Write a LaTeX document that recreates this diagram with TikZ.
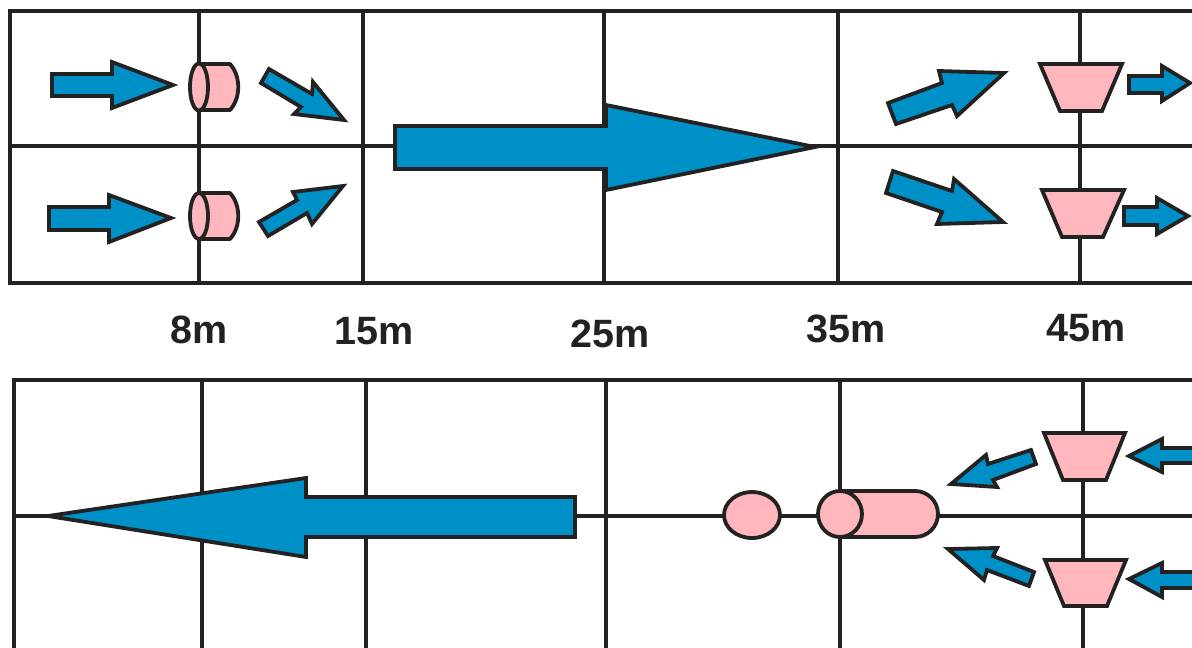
\documentclass[tikz,border=0pt]{standalone}
\usepackage{fontspec}
\setmainfont{Liberation Sans}
\definecolor{flow}{HTML}{0090C8}
\definecolor{vane}{HTML}{FFB6BC}
\definecolor{ink}{HTML}{222222}
\tikzset{
  gridline/.style={draw=ink,line width=3.6pt},
  flowarrow/.style={draw=ink,fill=flow,line width=3.8pt,line join=miter,miter limit=10},
  vaneshape/.style={draw=ink,fill=vane,line width=3.8pt,line join=round},
  dist/.style={font=\fontsize{39.5}{39.5}\selectfont\bfseries,text=ink,inner sep=0pt}
}
\begin{document}
\begin{tikzpicture}[x=1pt,y=-1pt]
\useasboundingbox (0,0) rectangle (1192,648);
\fill[white] (0,0) rectangle (1192,648);
\begin{scope}
\clip (0,0) rectangle (1192,648);
% top grid
\draw[gridline] (1200,11) -- (10,11) -- (10,283) -- (1200,283);
\draw[gridline] (10,146) -- (1200,146);
\foreach \x in {199,363,604,838,1080} \draw[gridline] (\x,11) -- (\x,283);
% bottom grid
\draw[gridline] (1200,380) -- (14,380) -- (14,660);
\draw[gridline] (14,516) -- (1200,516);
\foreach \x in {202,366,606,840,1083} \draw[gridline] (\x,380) -- (\x,660);
% top left arrows
\draw[flowarrow] (52,74) -- (112,74) -- (112,62) -- (173,85) -- (112,108) -- (112,96) -- (52,96) -- cycle;
\draw[flowarrow] (49,207) -- (109,207) -- (109,195) -- (171,218) -- (109,242) -- (109,230) -- (49,230) -- cycle;
\draw[flowarrow] (269,69) -- (312,94) -- (313,82) -- (344,120) -- (294,114) -- (301,107) -- (261,83) -- cycle;
\draw[flowarrow] (259,222) -- (297,200) -- (293,192) -- (343,186) -- (312,224) -- (307,213) -- (268,236) -- cycle;
% top left cylinders
\draw[vaneshape] (199,64) -- (230,64) .. controls (241,76) and (241,98) .. (230,110) -- (199,110) -- cycle;
\draw[vaneshape] (199,87) ellipse [x radius=9,y radius=23.5];
\draw[vaneshape] (199,193) -- (230,193) .. controls (241,205) and (241,227) .. (230,239) -- (199,239) -- cycle;
\draw[vaneshape] (199,216) ellipse [x radius=9,y radius=23];
% centre arrows
\draw[flowarrow] (395,126) -- (606,126) -- (606,105) -- (815,147) -- (606,190) -- (606,169) -- (395,169) -- cycle;
\draw[flowarrow] (575,497) -- (306,497) -- (306,478) -- (48,516) -- (306,557) -- (306,537) -- (575,537) -- cycle;
% top right
\draw[flowarrow] (888,103) -- (942,83) -- (939,71) -- (1004,73) -- (957,116) -- (952,105) -- (896,124) -- cycle;
\draw[flowarrow] (893,171) -- (952,191) -- (954,179) -- (1003,222) -- (937,224) -- (942,212) -- (886,193) -- cycle;
\draw[vaneshape,line join=miter] (1040,64) -- (1122,64) -- (1102,111) -- (1060,111) -- cycle;
\draw[vaneshape,line join=miter] (1042,190) -- (1124,190) -- (1103,237) -- (1062,237) -- cycle;
\draw[flowarrow] (1129,76) -- (1162,76) -- (1162,66) -- (1190,83) -- (1162,101) -- (1162,93) -- (1129,93) -- cycle;
\draw[flowarrow] (1124,207) -- (1157,207) -- (1157,198) -- (1188,216) -- (1157,234) -- (1157,225) -- (1124,225) -- cycle;
% bottom right
\draw[vaneshape,line join=miter] (1044,433) -- (1125,433) -- (1106,480) -- (1063,480) -- cycle;
\draw[vaneshape,line join=miter] (1045,560) -- (1126,560) -- (1107,606) -- (1064,606) -- cycle;
\draw[flowarrow] (1031,450) -- (1036,464) -- (993,480) -- (997,487) -- (951,484) -- (986,455) -- (988,464) -- cycle;
\draw[flowarrow] (948,549) -- (997,548) -- (993,556) -- (1034,572) -- (1029,586) -- (987,570) -- (984,580) -- cycle;
\draw[flowarrow] (1129,456) -- (1162,439) -- (1162,448) -- (1200,448) -- (1200,463) -- (1162,463) -- (1162,472) -- cycle;
\draw[flowarrow] (1129,579) -- (1162,563) -- (1162,572) -- (1200,572) -- (1200,588) -- (1162,588) -- (1162,597) -- cycle;
% central pieces
\draw[vaneshape] (752,515) ellipse [x radius=28,y radius=23];
\draw[vaneshape] (840,491) -- (915,491) arc[start angle=-90,end angle=90,radius=23] -- (840,537) -- cycle;
\draw[vaneshape] (840,514) ellipse [x radius=22,y radius=23];
\end{scope}
% distance labels
\node[dist] (d8) at (199,330) {8m};
\node[dist] (d15) at (374,331) {15m};
\node[dist] (d25) at (610,334) {25m};
\node[dist] (d35) at (846,329) {35m};
\node[dist] (d45) at (1086,328) {45m};
\end{tikzpicture}
\end{document}
